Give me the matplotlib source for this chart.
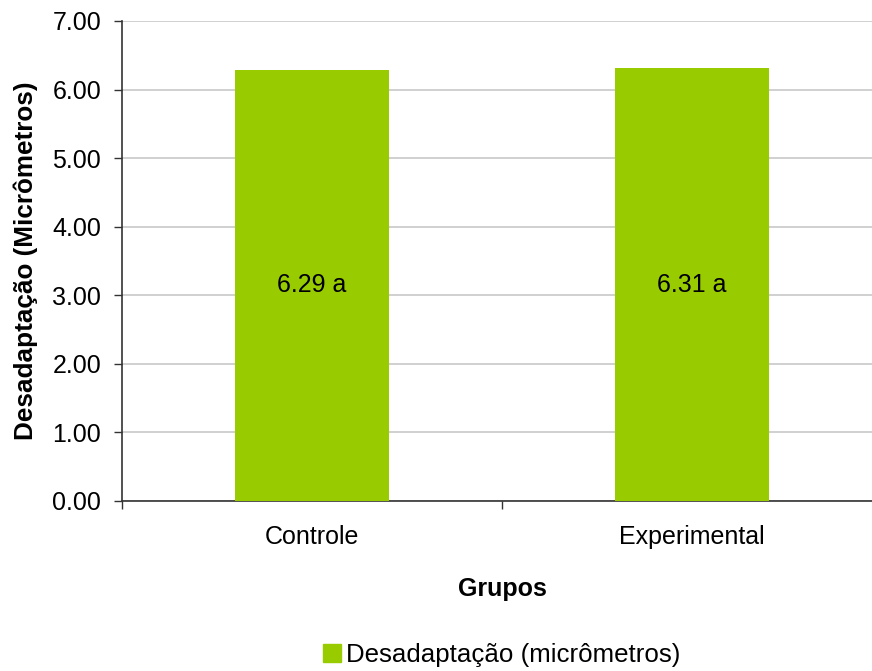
import matplotlib
matplotlib.use("Agg")
import numpy as np
from matplotlib import pyplot as plt
from matplotlib.patches import Patch

# --- data
grupos = ["Controle", "Experimental"]
desadaptacao = [6.29, 6.31]
letras = ["a", "a"]
yticks = [0, 1, 2, 3, 4, 5, 6, 7]

plt.rcParams["font.family"] = ["Liberation Sans", "DejaVu Sans"]

W, H = 872, 671
fig = plt.figure(figsize=(W / 100, H / 100), dpi=100)
# plot area: x 122..882 px (runs past right edge), y 21..501 px
ax = fig.add_axes([122 / W, (H - 501) / H, 760 / W, 480 / H])

x = np.arange(len(grupos))
bars = ax.bar(x, desadaptacao, width=0.403, color="#99CC00", zorder=3)

for xi, v, l in zip(x, desadaptacao, letras):
    ax.text(xi, v / 2, f"{v:.2f} {l}", ha="center", va="center", fontsize=18, zorder=4)

ax.set_xlim(-0.5, len(grupos) - 0.5)
ax.set_ylim(0, 7)
ax.set_yticks(yticks)
ax.set_yticklabels([f"{t:.2f}" for t in yticks])
ax.yaxis.grid(True, color="#c8c8c8", linewidth=1.2, zorder=0)

ax.set_xticks(x)
ax.set_xticklabels(grupos)
ax.set_xticks(np.arange(-0.5, len(grupos)), minor=True)
ax.tick_params(axis="x", which="major", length=0, pad=17, labelsize=18)
ax.tick_params(axis="x", which="minor", length=6, width=1, direction="out", color="#333333")
ax.tick_params(axis="y", length=6, width=1, pad=9, labelsize=18, color="#333333")

for s in ["top", "right"]:
    ax.spines[s].set_visible(False)
for s in ["left", "bottom"]:
    ax.spines[s].set_color("#333333")
    ax.spines[s].set_linewidth(1.2)

ax.set_xlabel("Grupos", fontsize=18, fontweight="bold")
ax.xaxis.set_label_coords(0.5, (501 - 577) / 480)
ax.set_ylabel("Desadaptação (Micrômetros)", fontsize=18.8, fontweight="bold")
ax.yaxis.set_label_coords((38 - 122) / 760, 0.5)

fig.legend(
    handles=[Patch(color="#99CC00", label="Desadaptação (micrômetros)")],
    loc="center", bbox_to_anchor=(502 / W, 1 - 655 / H),
    frameon=False, fontsize=18.6, handlelength=0.7, handleheight=0.7,
    handletextpad=0.2,
)

fig.savefig("out.png", dpi=100)
